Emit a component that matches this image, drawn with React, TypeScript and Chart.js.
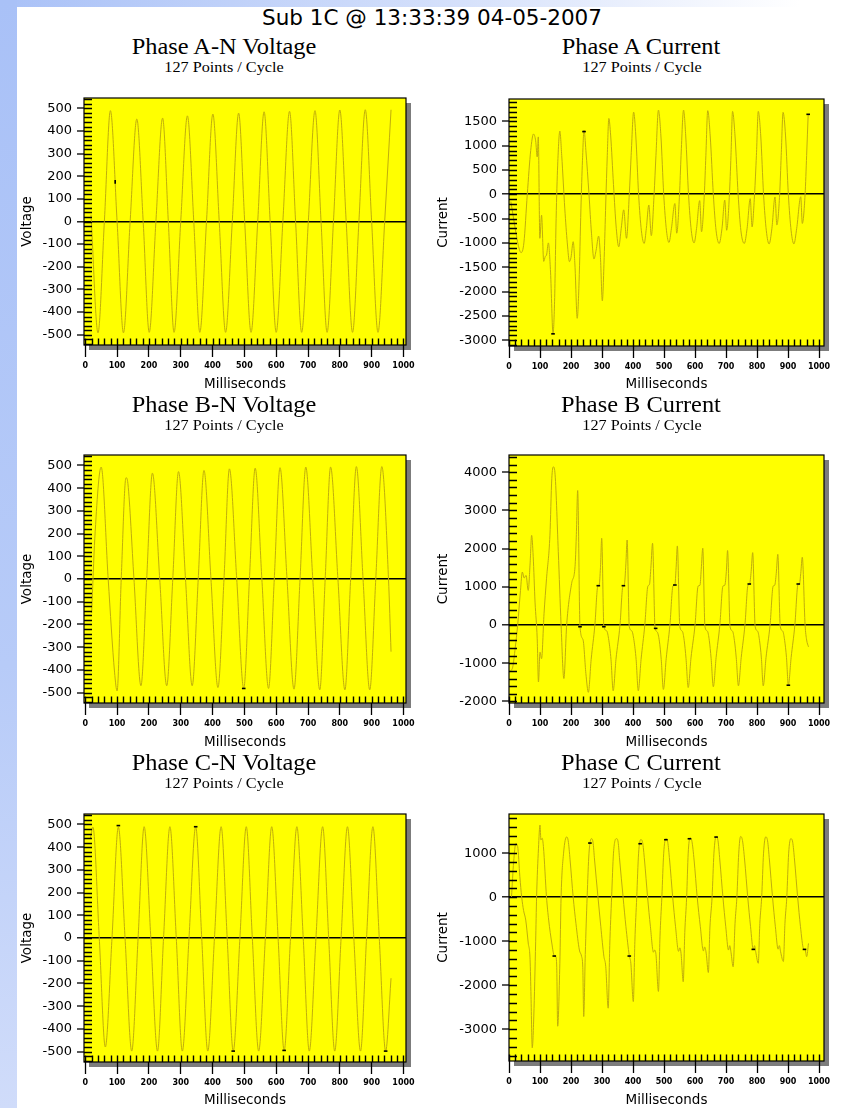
import React, { useEffect, useRef } from "react";
import { Chart, registerables } from "chart.js";
Chart.register(...registerables);

type Pt = [number, number];

// ---------- tick labels ----------
const timeTicks = [0, 100, 200, 300, 400, 500, 600, 700, 800, 900, 1000];
const voltageTicks = [-500, -400, -300, -200, -100, 0, 100, 200, 300, 400, 500];
const currentATicks = [-3000, -2500, -2000, -1500, -1000, -500, 0, 500, 1000, 1500];
const currentBTicks = [-2000, -1000, 0, 1000, 2000, 3000, 4000];
const currentCTicks = [-3000, -2000, -1000, 0, 1000];

// ---------- series: [milliseconds, value] ----------
const phaseAVoltage: Pt[] = [
  [18, 30], [40, -492], [60, 0], [79, 490], [100, 0], [120, -492], [141, 0], [162, 453], [182, 0], [201, -490],
  [222, 0], [243, 457], [261, 0], [279, -490], [300, 0], [321, 467], [341, 0], [360, -490], [381, 0], [401, 475],
  [421, 0], [441, -490], [462, 0], [482, 479], [501, 0], [521, -490], [542, 0], [562, 485], [581, 0], [600, -490],
  [621, 0], [642, 487], [661, 0], [680, -490], [701, 0], [722, 490], [741, 0], [760, -490], [780, 0], [800, 493],
  [820, 0], [840, -490], [860, 0], [880, 494], [900, 0], [920, -490], [941, 0], [961, 494],
];
const phaseAVoltageMarks: Pt[] = [[94, 175]];

const phaseBVoltage: Pt[] = [
  [20, -150], [30, 180], [50, 493], [72, 0], [92, -410], [100, -493], [113, 0], [128, 446], [134, 420], [153, 0],
  [175, -470], [193, 0], [211, 466], [234, 0], [256, -470], [275, 0], [293, 473], [315, 0], [336, -470], [355, 0],
  [373, 478], [395, 0], [417, -478], [436, 0], [453, 485], [476, 0], [498, -482], [516, 0], [534, 488], [555, 0],
  [576, -482], [594, 0], [612, 490], [634, 0], [656, -485], [675, 0], [693, 493], [715, 0], [737, -488], [754, 0],
  [771, 493], [794, 0], [816, -488], [834, 0], [852, 495], [873, 0], [894, -488], [913, 0], [932, 495], [953, 0],
  [961, -320],
];
const phaseBVoltageMarks: Pt[] = [[498, -482]];

const phaseCVoltage: Pt[] = [
  [16, 440], [24, 488], [44, 0], [63, -480], [84, 0], [104, 488], [125, 0], [146, -498], [166, 0], [185, 490],
  [206, 0], [227, -498], [246, 0], [266, 490], [286, 0], [305, -498], [326, 0], [347, 490], [366, 0], [385, -498],
  [406, 0], [427, 490], [446, 0], [465, -498], [486, 0], [506, 490], [525, 0], [545, -498], [566, 0], [586, 490],
  [606, 0], [625, -495], [645, 0], [665, 490], [685, 0], [704, -498], [725, 0], [746, 490], [765, 0], [784, -498],
  [804, 0], [824, 490], [844, 0], [865, -498], [884, 0], [904, 490], [924, 0], [944, -498], [961, -177],
];
const phaseCVoltageMarks: Pt[] = [[104, 495], [347, 490], [465, -498], [625, -495], [944, -498]];

const phaseACurrent: Pt[] = [
  [6, -150], [20, -700], [30, -1050], [39, -1200], [48, -1000], [59, 0], [70, 900], [79, 1240], [86, 1100], [91, 770],
  [94.5, 1180], [99.5, -905], [105, -430], [112, -1380], [117, -1280], [121, -1250], [127, -1000], [134, -1600], [142, -2860], [147, -2200],
  [152, -500], [157, 600], [164, 1300], [170, 800], [180, -300], [188, -1000], [195, -1385], [200, -1300], [207, -975], [213, -1500],
  [220, -2550], [226, -1800], [232, -300], [237, 700], [242, 1320], [248, 900], [258, 0], [266, -800], [274, -1330], [281, -1150],
  [289, -860], [295, -1300], [301, -2190], [307, -1300], [312, -200], [317, 800], [322, 1560], [328, 1200], [337, 200], [346, -700],
  [354, -1080], [362, -700], [370, -320], [379, -905], [388, 0], [394, 800], [402, 1690], [409, 1200], [418, 0], [427, -750],
  [436, -1010], [443, -700], [451, -220], [459, -850], [468, 0], [474, 800], [482, 1730], [490, 1200], [499, 0], [508, -750],
  [516, -990], [524, -700], [535, -190], [541, -800], [550, 0], [555, 800], [563, 1730], [570, 1200], [579, 0], [588, -750],
  [597, -1000], [605, -700], [615, -130], [621, -770], [630, 0], [635, 800], [641, 1720], [649, 1200], [659, 0], [668, -750],
  [678, -1010], [687, -700], [696, -120], [702, -740], [711, 0], [716, 800], [721, 1705], [729, 1200], [739, 0], [748, -750],
  [759, -1010], [768, -700], [778, -90], [784, -670], [792, 0], [798, 800], [804, 1705], [812, 1200], [821, 0], [830, -750],
  [839, -1020], [848, -700], [858, -55], [864, -630], [873, 0], [878, 800], [884, 1685], [892, 1200], [901, 0], [910, -750],
  [919, -1020], [928, -700], [941, -50], [946, -600], [955, 0], [960, 800], [965, 1650],
];
const phaseACurrentMarks: Pt[] = [[142, -2870], [242, 1290], [965, 1645]];

const phaseBCurrent: Pt[] = [
  [5, -1200], [12, -1100], [20, -600], [28, 0], [37, 900], [43, 1387], [49, 1230], [55, 1300], [62, 907], [68, 1600],
  [73, 2347], [78, 1800], [84, 600], [91, -360], [95, -1490], [100, -710], [105, -880], [113, 300], [121, 1210], [132, 2350],
  [138, 3830], [143, 4140], [148, 4000], [159, 1920], [168, 0], [177, -1400], [186, 0], [202, 1090], [213, 1530], [217, 2300],
  [221.5, 3520], [229, -40], [239, -390], [248, -1270], [256, -1760],
  [265, -900], [277, 0], [286, 1000], [291, 1050], [295, 1500], [299, 2270], [306, -40], [315, -150], [322, -400], [329, -900], [336, -1720],
  [345, -900], [358, 0], [367, 1000], [372, 1050], [377, 1600], [381, 2225], [388, -40], [396, -150], [403, -400], [410, -900], [417, -1720],
  [426, -900], [438, 0], [448, 1020], [453, 1060], [458, 1550], [463, 2140], [471, -60], [478, -180], [485, -420], [491, -900], [498, -1685],
  [507, -880], [519, 0], [529, 1030], [535, 1050], [539, 1500], [543, 2070], [551, -40], [559, -160], [565, -400], [571, -880], [578, -1635],
  [587, -860], [600, 0], [610, 1020], [616, 1040], [620, 1450], [625, 2010], [632, -40], [640, -160], [646, -400], [652, -880], [659, -1615],
  [668, -850], [680, 0], [690, 1020], [696, 1040], [701, 1400], [705, 1950], [713, -40], [721, -160], [727, -400], [733, -860], [740, -1590],
  [749, -850], [761, 0], [771, 1050], [776, 1070], [781, 1400], [786, 1895], [794, -40], [802, -160], [808, -400], [814, -860], [820, -1590],
  [829, -850], [842, 0], [852, 1020], [857, 1040], [862, 1350], [867, 1850], [875, -40], [883, -160], [889, -400], [895, -850], [901, -1575],
  [910, -850], [922, 0], [932, 1060], [937, 1080], [941, 1350], [946, 1775], [955, 0], [960, -390], [966, -570],
];
const phaseBCurrentMarks: Pt[] = [
  [229, -44], [306, -44], [473, -87], [288, 1030], [369, 1030], [535, 1048], [775, 1074], [933, 1074], [901, -1575],
];

const phaseCCurrent: Pt[] = [
  [8, 0], [15, 800], [22, 1220], [28, 1150], [35, 470], [41, 0], [47, -300], [54, -520], [62, -1040], [68, -1420], [71, -2250], [75, -3420],
  [80, -2700], [86, -1000], [89, 0], [95, 1100], [100, 1640], [103, 1300], [107, 1340], [111, 1150], [121, 0], [128, -520], [138, -1040], [146, -1330], [151, -1350], [154, -1600], [157, -2930],
  [164, -1500], [168, 0], [176, 1000], [186, 1370], [191, 1280], [197, 850], [207, 0], [216, -600], [227, -1200], [234, -1340], [238, -1600], [241, -2710],
  [246, -1300], [252, 0], [258, 1000], [266, 1330], [271, 1250], [276, 845], [287, 0], [296, -660], [306, -1340], [312, -1570], [320, -2520],
  [325, -1100], [331, 0], [337, 1000], [347, 1330], [352, 1250], [357, 845], [368, 0], [377, -660], [388, -1330], [393, -1500], [401, -2370],
  [406, -1000], [412, 0], [418, 1000], [425, 1310], [431, 1240], [437, 845], [447, 0], [456, -660], [466, -1250], [470, -1200], [474, -1300], [482, -2140],
  [487, -900], [493, 0], [499, 1000], [506, 1330], [512, 1250], [518, 845], [528, 0], [537, -660], [547, -1230], [551, -1150], [555, -1280], [562, -1920],
  [567, -800], [573, 0], [578, 1000], [584, 1350], [590, 1270], [597, 845], [607, 0], [617, -660], [627, -1220], [631, -1130], [636, -1270], [643, -1710],
  [648, -700], [655, 0], [661, 1000], [668, 1380], [674, 1290], [680, 845], [690, 0], [699, -660], [708, -1200], [712, -1100], [716, -1250], [723, -1580],
  [729, -600], [735, 0], [741, 1000], [747, 1380], [753, 1290], [760, 845], [770, 0], [779, -660], [788, -1190], [792, -1100], [796, -1250], [804, -1500],
  [809, -600], [815, 0], [821, 1000], [828, 1370], [834, 1280], [840, 845], [850, 0], [859, -660], [868, -1180], [872, -1100], [876, -1240], [885, -1460],
  [890, -600], [896, 0], [902, 1000], [909, 1330], [915, 1250], [921, 845], [931, 0], [940, -660], [950, -1170], [955, -1190], [960, -1350], [966, -1050],
];
const phaseCCurrentMarks: Pt[] = [
  [146, -1336], [261, 1230], [388, -1336], [423, 1215], [506, 1306], [582, 1328], [668, 1366], [788, -1185], [953, -1185],
];

// ---------- styling / layout ----------
const SANS = '"DejaVu Sans", sans-serif';
const SERIF = '"Liberation Serif", "Times New Roman", serif';
const WAVE = "rgb(192,174,12)";

type Rect = { x: number; y: number; w: number; h: number };
type Box = { l: number; t: number; r: number; b: number };
type PanelCfg = {
  title: string;
  sub: string;
  yTitle: string;
  series: Pt[];
  marks: Pt[];
  markRot: number;
  yTicks: number[];
  yMin: number;
  yMax: number;
  yMinor: number;
  xMin: number;
  xMax: number;
  canvas: Rect;
  box: Box;
  yTitleX: number;
  xTitleY: number;
  titleX: number;
  titleY: number;
  subX: number;
  subY: number;
};

const LEFT_X = { xMin: -4, xMax: 1008 };
const RIGHT_X = { xMin: 0, xMax: 1016 };

const panels: PanelCfg[] = [
  {
    title: "Phase A-N Voltage", sub: "127 Points / Cycle", yTitle: "Voltage",
    series: phaseAVoltage, marks: phaseAVoltageMarks, markRot: 90,
    yTicks: voltageTicks, yMin: -546, yMax: 546, yMinor: 20, ...LEFT_X,
    canvas: { x: 10, y: 85, w: 420, h: 310 }, box: { l: 84, t: 98, r: 406, b: 345 },
    yTitleX: 27, xTitleY: 384, titleX: 224, titleY: 46, subX: 224, subY: 67,
  },
  {
    title: "Phase A Current", sub: "127 Points / Cycle", yTitle: "Current",
    series: phaseACurrent, marks: phaseACurrentMarks, markRot: 0,
    yTicks: currentATicks, yMin: -3120, yMax: 1960, yMinor: 100, ...RIGHT_X,
    canvas: { x: 430, y: 85, w: 412, h: 310 }, box: { l: 509, t: 99, r: 824, b: 346 },
    yTitleX: 443, xTitleY: 384, titleX: 641, titleY: 46, subX: 642, subY: 67,
  },
  {
    title: "Phase B-N Voltage", sub: "127 Points / Cycle", yTitle: "Voltage",
    series: phaseBVoltage, marks: phaseBVoltageMarks, markRot: 0,
    yTicks: voltageTicks, yMin: -546, yMax: 546, yMinor: 20, ...LEFT_X,
    canvas: { x: 10, y: 442, w: 420, h: 310 }, box: { l: 84, t: 455, r: 406, b: 703 },
    yTitleX: 27, xTitleY: 742, titleX: 224, titleY: 404, subX: 224, subY: 425,
  },
  {
    title: "Phase B Current", sub: "127 Points / Cycle", yTitle: "Current",
    series: phaseBCurrent, marks: phaseBCurrentMarks, markRot: 0,
    yTicks: currentBTicks, yMin: -2040, yMax: 4450, yMinor: 200, ...RIGHT_X,
    canvas: { x: 430, y: 442, w: 412, h: 310 }, box: { l: 509, t: 455, r: 824, b: 703 },
    yTitleX: 443, xTitleY: 742, titleX: 641, titleY: 404, subX: 642, subY: 425,
  },
  {
    title: "Phase C-N Voltage", sub: "127 Points / Cycle", yTitle: "Voltage",
    series: phaseCVoltage, marks: phaseCVoltageMarks, markRot: 0,
    yTicks: voltageTicks, yMin: -546, yMax: 546, yMinor: 20, ...LEFT_X,
    canvas: { x: 10, y: 801, w: 420, h: 312 }, box: { l: 84, t: 814, r: 406, b: 1062 },
    yTitleX: 27, xTitleY: 1100, titleX: 224, titleY: 762, subX: 224, subY: 783,
  },
  {
    title: "Phase C Current", sub: "127 Points / Cycle", yTitle: "Current",
    series: phaseCCurrent, marks: phaseCCurrentMarks, markRot: 0,
    yTicks: currentCTicks, yMin: -3720, yMax: 1890, yMinor: 200, ...RIGHT_X,
    canvas: { x: 430, y: 801, w: 412, h: 312 }, box: { l: 509, t: 814, r: 824, b: 1061 },
    yTitleX: 443, xTitleY: 1100, titleX: 641, titleY: 762, subX: 642, subY: 783,
  },
];

const AXIS_TITLE_SIZE = 13.5;
const AXIS_TITLE_LH = AXIS_TITLE_SIZE * 1.2;

function framePlugin(cfg: PanelCfg) {
  return {
    id: "frame",
    beforeDraw(chart: any) {
      const { ctx, chartArea: a } = chart;
      const w = a.right - a.left;
      const h = a.bottom - a.top;
      ctx.save();
      ctx.fillStyle = "#7c7c7c";
      ctx.fillRect(a.left + 5, a.top + 5, w, h);
      ctx.fillStyle = "#ffff00";
      ctx.fillRect(a.left, a.top, w, h);
      ctx.restore();
    },
    afterDraw(chart: any) {
      const { ctx, chartArea: a, scales } = chart;
      const xs = scales.x;
      const ys = scales.y;
      ctx.save();
      ctx.strokeStyle = "#000";
      ctx.lineWidth = 1.4;
      ctx.beginPath();
      const first = Math.ceil(cfg.yMin / cfg.yMinor) * cfg.yMinor;
      for (let v = first; v <= cfg.yMax; v += cfg.yMinor) {
        const py = Math.round(ys.getPixelForValue(v)) + 0.5;
        ctx.moveTo(a.left, py);
        ctx.lineTo(a.left + 8, py);
      }
      for (let v = 0; v <= 1000; v += 20) {
        const px = Math.round(xs.getPixelForValue(v)) + 0.5;
        ctx.moveTo(px, a.bottom);
        ctx.lineTo(px, a.bottom - 6.5);
      }
      ctx.stroke();
      ctx.lineWidth = 1.2;
      ctx.strokeRect(a.left, a.top, a.right - a.left, a.bottom - a.top);
      ctx.restore();
    },
  };
}

function Panel({ cfg }: { cfg: PanelCfg }) {
  const ref = useRef<HTMLCanvasElement | null>(null);
  useEffect(() => {
    if (!ref.current) return;
    const cv = cfg.canvas;
    const b = cfg.box;
    const xH = cfg.xTitleY - b.b + AXIS_TITLE_LH / 2;
    const yW = b.l - cv.x;
    const chart = new Chart(ref.current, {
      type: "line",
      data: {
        datasets: [
          {
            data: cfg.marks.map(([x, y]) => ({ x, y })),
            showLine: false,
            pointStyle: "line",
            pointRadius: 1.8,
            pointRotation: cfg.markRot,
            borderColor: "#000",
            pointBorderColor: "#000",
            borderWidth: 1.6,
            pointBorderWidth: 1.6,
            order: 0,
          },
          {
            data: cfg.series.map(([x, y]) => ({ x, y })),
            borderColor: WAVE,
            borderWidth: 1,
            pointRadius: 0,
            cubicInterpolationMode: "monotone",
            fill: false,
            order: 1,
          },
        ],
      } as any,
      options: {
        animation: false,
        responsive: false,
        events: [],
        layout: {
          autoPadding: false,
          padding: {
            left: 0,
            top: b.t - cv.y,
            right: cv.x + cv.w - b.r,
            bottom: cv.y + cv.h - b.b - xH,
          },
        },
        plugins: { legend: { display: false }, tooltip: { enabled: false }, title: { display: false } },
        scales: {
          x: {
            type: "linear",
            min: cfg.xMin,
            max: cfg.xMax,
            afterBuildTicks: (s: any) => {
              s.ticks = timeTicks.map((v) => ({ value: v }));
            },
            afterFit: (s: any) => {
              s.height = xH;
            },
            grid: { drawOnChartArea: false, drawTicks: true, tickLength: 12, tickColor: "#000", tickWidth: 1.3 },
            border: { display: false },
            ticks: {
              autoSkip: false,
              maxRotation: 0,
              minRotation: 0,
              padding: 4,
              color: "#000",
              font: { family: SANS, size: 8, weight: "bold" },
              callback: (v: any) => String(v),
            },
            title: {
              display: true,
              text: "Milliseconds",
              color: "#000",
              font: { family: SANS, size: AXIS_TITLE_SIZE },
              padding: { top: 0, bottom: 0 },
            },
          },
          y: {
            type: "linear",
            min: cfg.yMin,
            max: cfg.yMax,
            afterBuildTicks: (s: any) => {
              s.ticks = cfg.yTicks.map((v) => ({ value: v }));
            },
            afterFit: (s: any) => {
              s.width = yW;
            },
            grid: {
              drawOnChartArea: true,
              drawTicks: true,
              tickLength: 7,
              tickColor: "#000",
              tickWidth: 1.3,
              color: (c: any) => (c.tick && c.tick.value === 0 ? "#000" : "rgba(0,0,0,0)"),
              lineWidth: (c: any) => (c.tick && c.tick.value === 0 ? 1.6 : 0),
            },
            border: { display: false },
            ticks: {
              autoSkip: false,
              padding: 5,
              color: "#000",
              font: { family: SANS, size: 13 },
              callback: (v: any) => String(v),
            },
            title: {
              display: true,
              text: cfg.yTitle,
              color: "#000",
              font: { family: SANS, size: AXIS_TITLE_SIZE },
              padding: { top: cfg.yTitleX - cv.x - AXIS_TITLE_LH / 2, bottom: 0 },
            },
          },
        },
      } as any,
      plugins: [framePlugin(cfg)],
    });
    return () => chart.destroy();
  }, [cfg]);
  return (
    <canvas
      ref={ref}
      width={cfg.canvas.w}
      height={cfg.canvas.h}
      style={{ position: "absolute", left: cfg.canvas.x, top: cfg.canvas.y, width: cfg.canvas.w, height: cfg.canvas.h }}
    />
  );
}

function Text({ text, x, y, size, family, sx = 1 }: { text: string; x: number; y: number; size: number; family: string; sx?: number }) {
  return (
    <div
      style={{
        position: "absolute",
        left: x,
        top: y,
        transform: `translate(-50%, -50%) scaleX(${sx})`,
        fontFamily: family,
        fontSize: size,
        lineHeight: 1,
        whiteSpace: "nowrap",
        color: "#000",
      }}
    >
      {text}
    </div>
  );
}

export default function App() {
  return (
    <div
      style={{
        position: "absolute",
        left: 0,
        top: 0,
        width: 842,
        height: 1108,
        overflow: "hidden",
        background: "#ffffff",
      }}
    >
      <div
        style={{
          position: "absolute",
          left: 0,
          top: 0,
          width: 842,
          height: 7,
          background: "linear-gradient(to right, #a9c1f7 0%, #d6e1fb 55%, #ffffff 95%)",
        }}
      />
      <div
        style={{
          position: "absolute",
          left: 0,
          top: 0,
          width: 17,
          height: 1108,
          background: "linear-gradient(to bottom, #a9c1f7 0%, #b7cbf8 60%, #d0dcfa 100%)",
        }}
      />
      <Text text="Sub 1C @ 13:33:39 04-05-2007" x={432} y={18} size={21.5} family={SANS} />
      {panels.map((p, i) => (
        <React.Fragment key={i}>
          <Text text={p.title} x={p.titleX} y={p.titleY} size={23} family={SERIF} sx={1.06} />
          <Text text={p.sub} x={p.subX} y={p.subY} size={15} family={SERIF} sx={1.08} />
          <Panel cfg={p} />
        </React.Fragment>
      ))}
    </div>
  );
}
